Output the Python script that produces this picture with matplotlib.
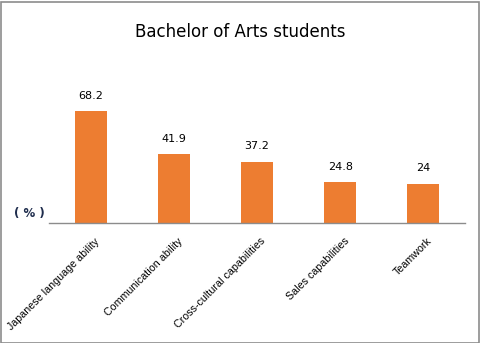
import matplotlib.pyplot as plt
from matplotlib.patches import Rectangle
from matplotlib.transforms import ScaledTranslation

categories = ['Japanese language ability', 'Communication ability',
              'Cross-cultural capabilities', 'Sales capabilities', 'Teamwork']
values = [68.2, 41.9, 37.2, 24.8, 24]
value_labels = ['68.2', '41.9', '37.2', '24.8', '24']

fig = plt.figure(figsize=(4.81, 3.43), dpi=100)
ax = fig.add_axes([49 / 481, (343 - 223) / 343, 416 / 481, 131 / 343])

x = range(len(categories))
bars = ax.bar(x, values, width=0.385, color='#ed7d31')
for b, lab in zip(bars, value_labels):
    ax.text(b.get_x() + b.get_width() / 2, b.get_height() + 6.5, lab,
            ha='center', va='bottom', fontsize=8, family='DejaVu Sans')

ax.set_xlim(-0.5, len(categories) - 0.5)
ax.set_ylim(0, 80)
ax.set_yticks([])
ax.set_xticks(list(x))
ax.set_xticklabels(categories, rotation=45, ha='right', va='center',
                   rotation_mode='anchor', fontsize=7.7, family='Liberation Sans')
ax.tick_params(axis='x', length=0, pad=12)
shift = ScaledTranslation(7 / 100, 0, fig.dpi_scale_trans)
for t in ax.get_xticklabels():
    t.set_transform(t.get_transform() + shift)
for s in ['top', 'right', 'left']:
    ax.spines[s].set_visible(False)
ax.spines['bottom'].set_color('#8c8c8c')
ax.spines['bottom'].set_linewidth(1)

fig.text(240 / 481, 1 - 32 / 343, 'Bachelor of Arts students', ha='center',
         va='center', fontsize=12, family='DejaVu Sans')
fig.text(29 / 481, 1 - 213 / 343, '( % )', ha='center', va='center',
         fontsize=8.5, color='#1f2d4d', fontweight='bold', family='DejaVu Sans')

fig.patches.append(Rectangle((0.5 / 481, 0.5 / 343), 479 / 481, 341 / 343,
                             transform=fig.transFigure, fill=False,
                             edgecolor='#8c8c8c', linewidth=1.2))

fig.savefig('out.png', dpi=100)
